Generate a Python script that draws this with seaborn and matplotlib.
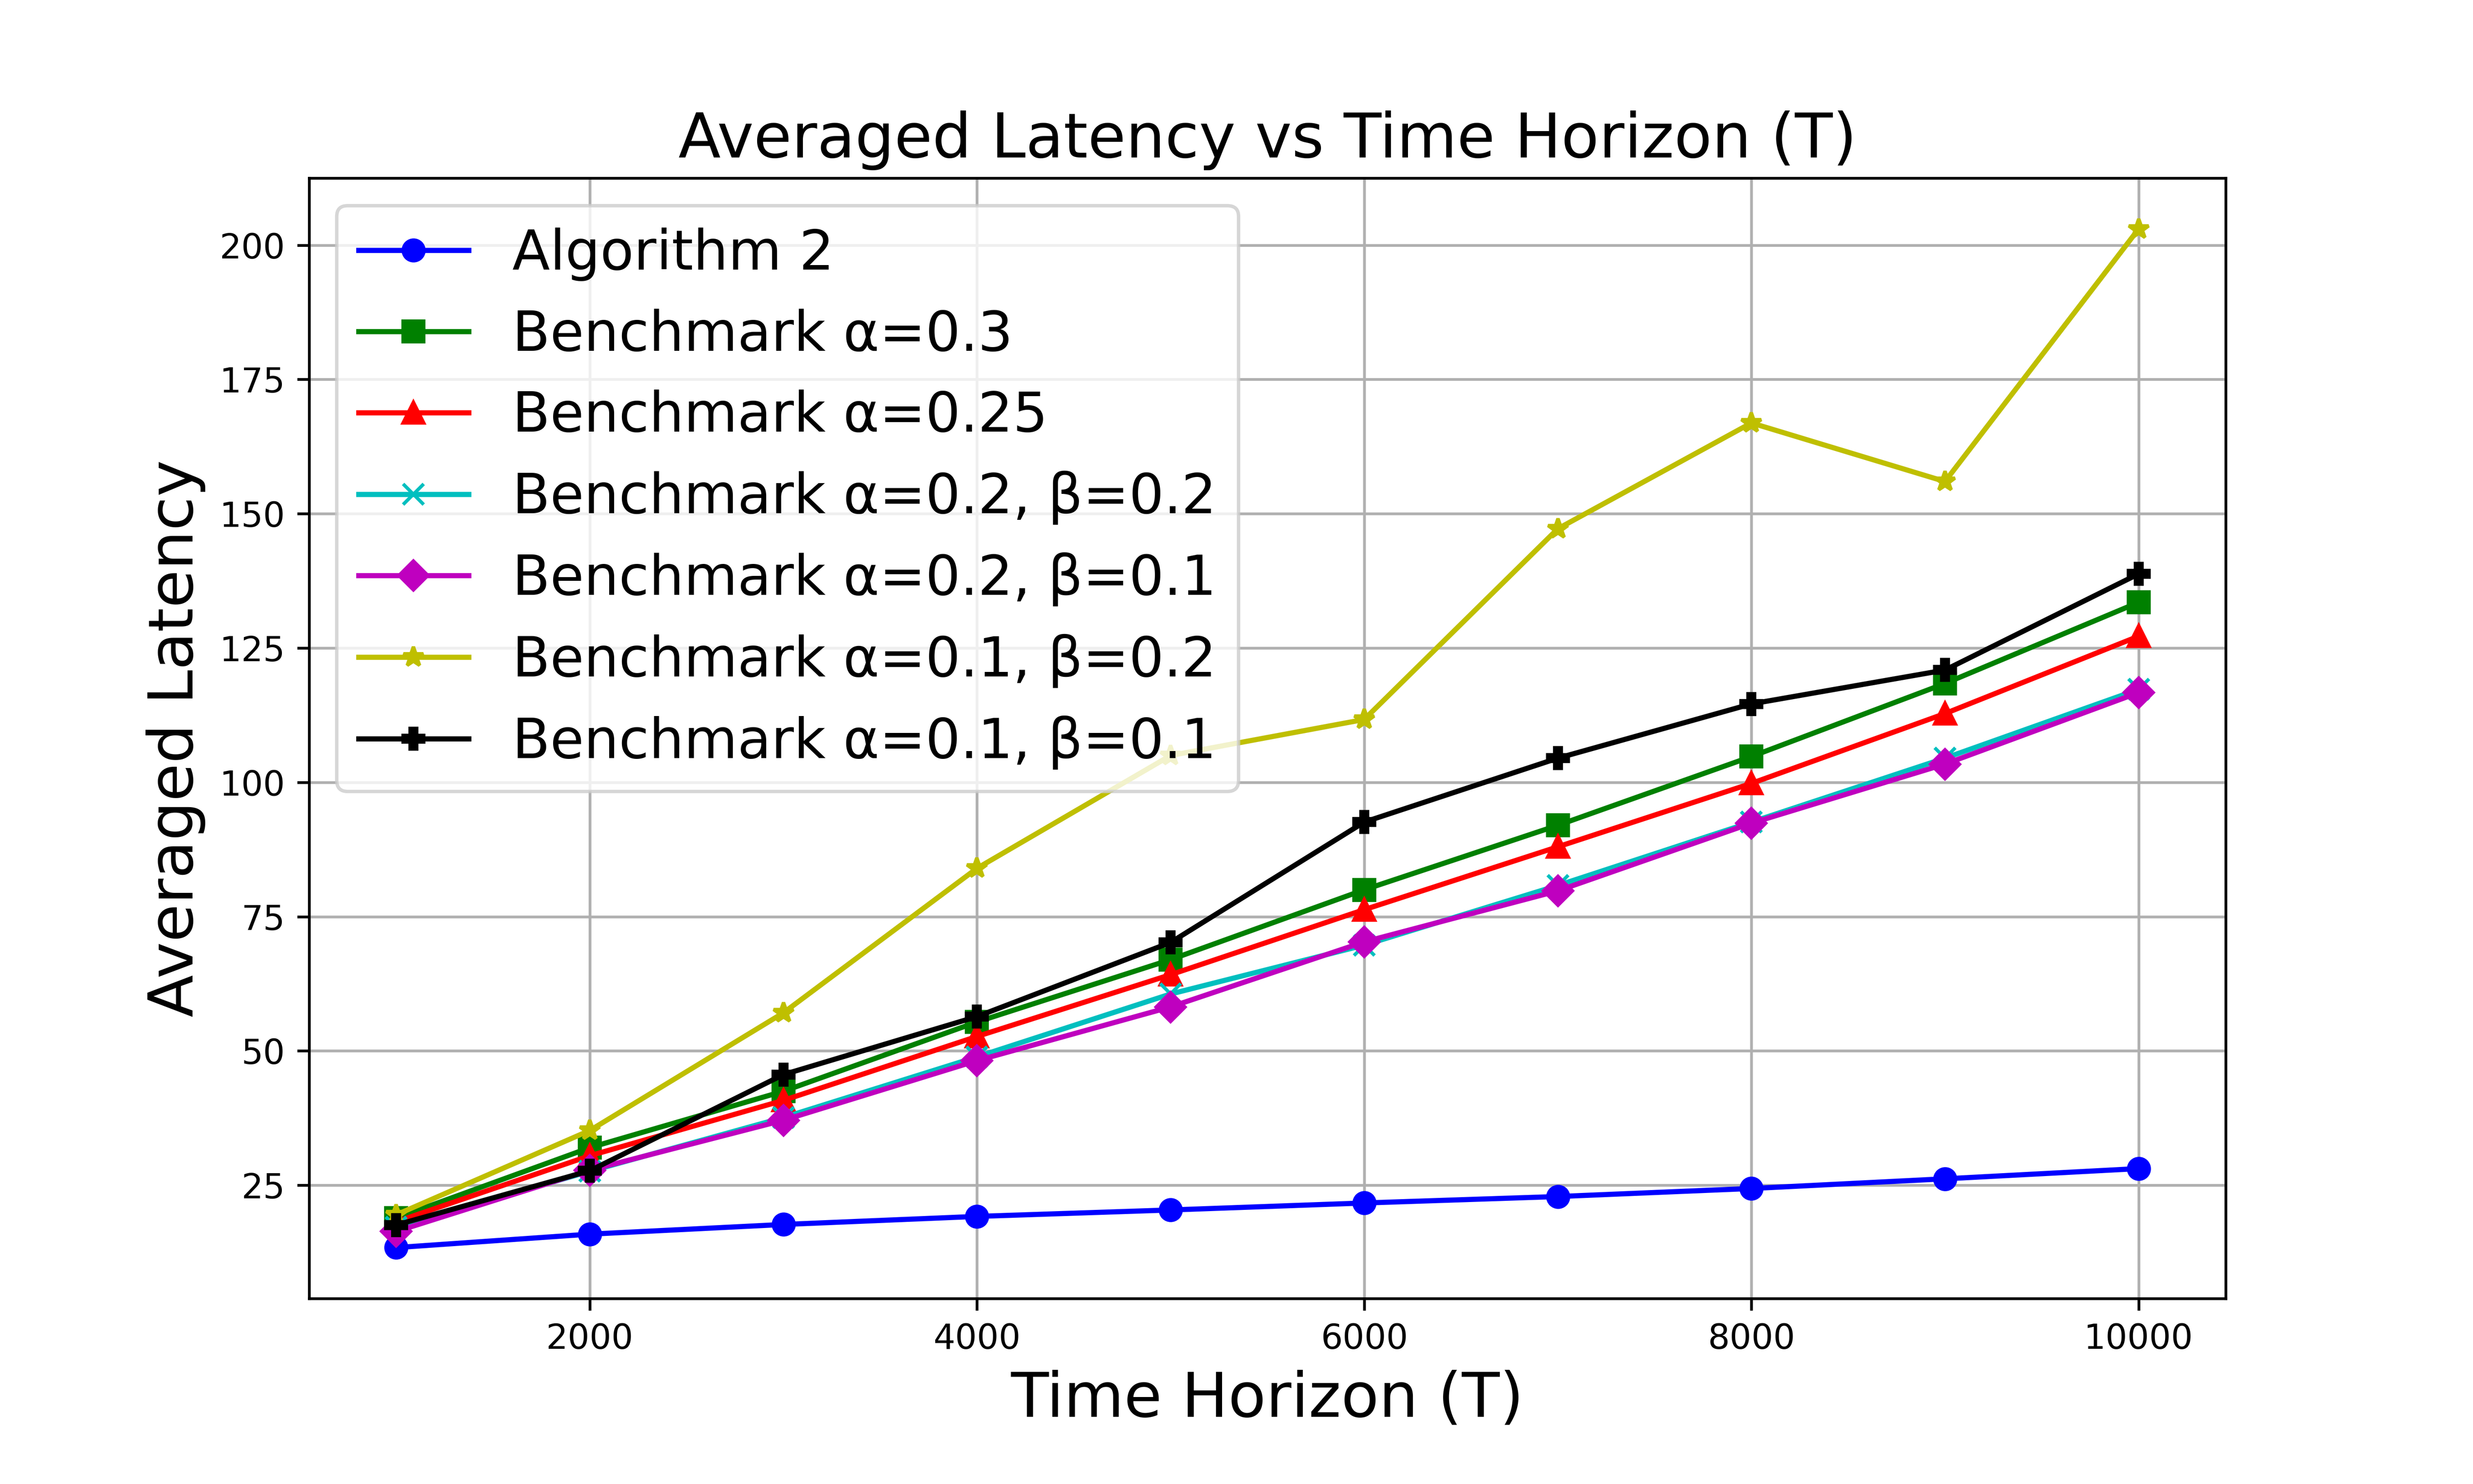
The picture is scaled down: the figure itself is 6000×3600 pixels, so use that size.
import numpy as np
import pandas as pd
import seaborn as sns
import matplotlib.pyplot as plt

T = [1000, 2000, 3000, 4000, 5000, 6000, 7000, 8000, 9000, 10000]

alg2 = [13.4, 15.9, 17.7, 19.2, 20.4, 21.7, 22.9, 24.4, 26.2, 28.1]
bench_a03 = [18.9, 32.0, 42.5, 55.4, 67.0, 80.0, 92.0, 104.8, 118.4, 133.5]
bench_a025 = [18.2, 30.5, 40.8, 52.7, 64.2, 76.3, 88.0, 99.8, 112.8, 127.2]
bench_a02_b02 = [17.2, 27.6, 37.6, 48.9, 60.6, 69.7, 80.8, 92.6, 104.5, 117.3]
bench_a02_b01 = [16.4, 27.8, 37.1, 48.2, 58.2, 70.3, 79.8, 92.4, 103.4, 116.7]
bench_a01_b02 = [19.5, 35.2, 57.1, 84.0, 105.0, 111.7, 147.2, 166.9, 156.0, 203.0]
bench_a01_b01 = [17.6, 27.7, 45.6, 56.4, 70.2, 92.6, 104.5, 114.6, 120.9, 138.8]

labels = ['Algorithm 2', 'Benchmark α=0.3', 'Benchmark α=0.25',
          'Benchmark α=0.2, β=0.2', 'Benchmark α=0.2, β=0.1',
          'Benchmark α=0.1, β=0.2', 'Benchmark α=0.1, β=0.1']
series = [alg2, bench_a03, bench_a025, bench_a02_b02, bench_a02_b01,
          bench_a01_b02, bench_a01_b01]
colors = ['b', 'g', 'r', 'c', 'm', 'y', 'k']
markers = ['o', 's', '^', 'x', 'D', '*', 'P']

fig = plt.figure(figsize=(10, 6), dpi=600)
ax = fig.add_subplot(111)
fig.subplots_adjust(left=0.125, right=0.9, top=0.88, bottom=0.125)

for vals, lab, c, m in zip(series, labels, colors, markers):
    df = pd.DataFrame({'T': T, 'Latency': vals})
    sns.lineplot(x='T', y='Latency', data=df, ax=ax, label=lab, color=c,
                 marker=m, markersize=6, linewidth=1.5, mec=c, mew=1)

ax.set_title('Averaged Latency vs Time Horizon (T)', fontsize=18)
ax.set_xlabel('Time Horizon (T)', fontsize=18)
ax.set_ylabel('Averaged Latency', fontsize=18)
ax.grid(True)
ax.legend(loc='upper left', fontsize=16)

plt.savefig('out.png', dpi=600)
